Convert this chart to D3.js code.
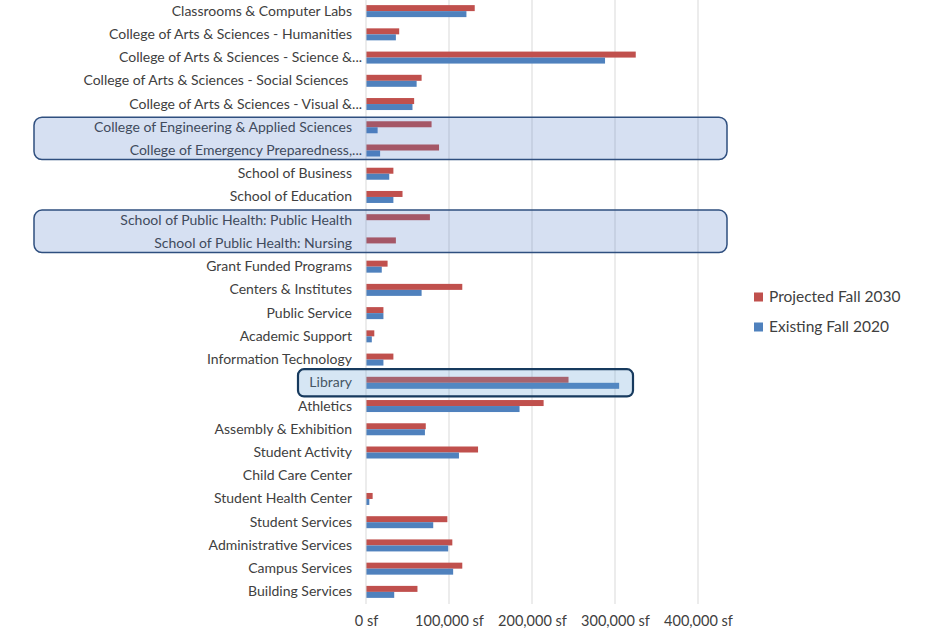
<!DOCTYPE html>
<html>
<head>
<meta charset="utf-8">
<script src="https://cdn.jsdelivr.net/npm/d3@7"></script>
<style>
  body { margin: 0; background: #fff; }
  svg, svg text { font-family: Lato, "Open Sans", sans-serif; }
</style>
</head>
<body>
<div id="chart"></div>
<script>
const categories = [
    "Classrooms & Computer Labs",
    "College of Arts & Sciences - Humanities",
    "College of Arts & Sciences - Science &...",
    "College of Arts & Sciences - Social Sciences ",
    "College of Arts & Sciences - Visual &...",
    "College of Engineering & Applied Sciences",
    "College of Emergency Preparedness,...",
    "School of Business",
    "School of Education",
    "School of Public Health: Public Health",
    "School of Public Health: Nursing",
    "Grant Funded Programs",
    "Centers & Institutes",
    "Public Service",
    "Academic Support",
    "Information Technology",
    "Library",
    "Athletics",
    "Assembly & Exhibition",
    "Student Activity",
    "Child Care Center",
    "Student Health Center",
    "Student Services",
    "Administrative Services",
    "Campus Services",
    "Building Services"
];

const projected2030 = [131000, 40000, 325000, 67000, 58000, 79000, 88000, 33000, 44000, 77000, 36000,
    26000, 116000, 21000, 10000, 33000, 244000, 214000, 72000, 135000, 0, 8000, 98000, 104000, 116000, 62000];

const existing2020 = [121000, 36000, 288000, 61000, 56000, 14000, 17000, 28000, 33000, 0, 0,
    19000, 67000, 21000, 7000, 21000, 305000, 185000, 71000, 112000, 0, 4000, 81000, 99000, 105000, 34000];

const seriesNames = ["Projected Fall 2030", "Existing Fall 2020"];
const xTicks = [0, 100000, 200000, 300000, 400000];

// groups outlined on the chart
const highlightGroups = [
    ["College of Engineering & Applied Sciences", "College of Emergency Preparedness,..."],
    ["School of Public Health: Public Health", "School of Public Health: Nursing"]
];
const libraryHighlight = "Library";

const W = 928, H = 633;
const colors = { "Projected Fall 2030": "#c0504d", "Existing Fall 2020": "#4f81bd" };
const textColor = "#404040";
const fontFamily = "Lato, 'Open Sans', sans-serif";

const svg = d3.select("#chart").append("svg")
    .attr("width", W)
    .attr("height", H);

const x = d3.scaleLinear()
    .domain([0, 400000])
    .range([366, 698]);

const y = d3.scaleBand()
    .domain(categories)
    .range([-0.5, 603.5])
    .paddingInner(0)
    .paddingOuter(0);

const ySub = d3.scaleBand()
    .domain(seriesNames)
    .range([0, 12]);

const bandPad = (y.bandwidth() - 12) / 2;

// Grid lines
svg.append("g")
    .selectAll("line")
    .data(xTicks.slice(1))
    .enter().append("line")
    .attr("x1", d => x(d)).attr("x2", d => x(d))
    .attr("y1", 0).attr("y2", 604)
    .attr("stroke", "#d9d9d9")
    .attr("stroke-width", 1);

// X axis labels
const xAxis = svg.append("g")
    .attr("transform", "translate(0,610)")
    .call(d3.axisBottom(x).tickValues(xTicks).tickSize(0).tickFormat(d => d3.format(",")(d) + " sf"))
    .attr("font-family", fontFamily);
xAxis.select(".domain").remove();
xAxis.selectAll("text")
    .attr("fill", textColor)
    .style("font-size", "14.5px")
    .attr("dy", "0.9em");

// Y axis labels
const yAxis = svg.append("g")
    .attr("transform", "translate(352,0)")
    .call(d3.axisLeft(y).tickSize(0).tickPadding(0))
    .attr("font-family", fontFamily);
yAxis.select(".domain").remove();
yAxis.selectAll("text")
    .attr("fill", textColor)
    .style("font-size", "14px")
    .style("white-space", "pre")
    .attr("dx", d => d.endsWith("...") ? 10 : 0);

// Bars
const rows = categories.map((c, i) => ({ cat: c, values: [projected2030[i], existing2020[i]] }));

const groups = svg.append("g")
    .selectAll("g")
    .data(rows)
    .enter().append("g")
    .attr("transform", d => `translate(0,${y(d.cat) + bandPad})`);

groups.selectAll("rect")
    .data(d => d.values.map((v, j) => ({ key: seriesNames[j], value: v })))
    .enter().append("rect")
    .attr("x", x(0))
    .attr("y", d => ySub(d.key))
    .attr("width", d => x(d.value) - x(0))
    .attr("height", ySub.bandwidth())
    .attr("fill", d => colors[d.key]);

// Vertical axis line
svg.append("line")
    .attr("x1", x(0)).attr("x2", x(0))
    .attr("y1", 0).attr("y2", 604)
    .attr("stroke", "#d9d9d9");

// Highlight boxes (drawn over bars, semi-transparent)
highlightGroups.forEach(g => {
    const y0 = y(g[0]) + 1.5;
    const y1 = y(g[g.length - 1]) + y.bandwidth() - 2.5;
    svg.append("rect")
        .attr("x", 34).attr("y", y0)
        .attr("width", x(400000) + 29 - 34)
        .attr("height", y1 - y0)
        .attr("rx", 8).attr("ry", 8)
        .attr("fill", "#4472c4")
        .attr("fill-opacity", 0.22)
        .attr("stroke", "#2f4f7f")
        .attr("stroke-width", 1.5);
});

svg.append("rect")
    .attr("x", 298)
    .attr("y", y(libraryHighlight) - 2)
    .attr("width", 633 - 298)
    .attr("height", y.bandwidth() + 4)
    .attr("rx", 6).attr("ry", 6)
    .attr("fill", "#5b9bd5")
    .attr("fill-opacity", 0.25)
    .attr("stroke", "#173a5e")
    .attr("stroke-width", 2.2);

// Legend
const legend = svg.append("g")
    .attr("transform", "translate(754,297)");

seriesNames.forEach((s, i) => {
    const row = legend.append("g").attr("transform", `translate(0,${i * 30})`);
    row.append("rect")
        .attr("x", 0).attr("y", -4.5)
        .attr("width", 9).attr("height", 9)
        .attr("fill", colors[s]);
    row.append("text")
        .attr("x", 15).attr("y", 0)
        .attr("dy", "0.35em")
        .attr("fill", textColor)
        .style("font-size", "15.5px")
        .text(s);
});
</script>
</body>
</html>
